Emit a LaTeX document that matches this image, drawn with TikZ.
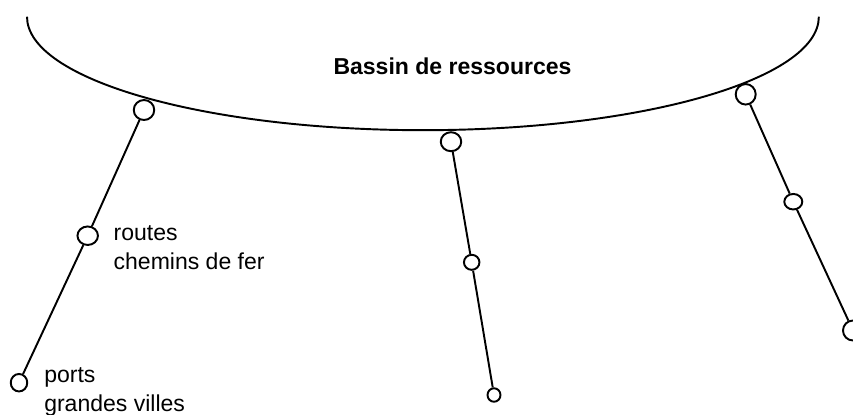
\documentclass[tikz,border=0pt]{standalone}
\usepackage{fontspec}
\setmainfont{Liberation Sans}
\usepackage{tikz}
\usetikzlibrary{shapes.geometric}

\begin{document}
\begin{tikzpicture}[x=0.02cm,y=-0.02cm,line width=1.1pt,
    txt/.style={font=\fontsize{13.1}{16.2}\selectfont},
    joint/.style 2 args={draw, ellipse, inner sep=0pt, minimum width=#1*0.02cm, minimum height=#2*0.02cm},
    lbl/.style={txt, anchor=base west, align=left, inner sep=0pt}]
                \useasboundingbox (0,0) rectangle (853,414);

                % Resource basin
                \draw (27,16.7) arc[start angle=180, end angle=360, x radius=7.92cm, y radius=2.27cm];
                \node[txt, font=\fontsize{13.1}{16.2}\selectfont\bfseries, anchor=base] (bassin) at (452.5,74.3) {Bassin de ressources};

                % Left branch
                \node[joint={20.5}{20}] (ltop) at (144,110) {};
                \node[joint={20.5}{18.5}] (lmid) at (87.7,235.7) {};
                \node[joint={16.5}{17.5}] (lbot) at (19,382.7) {};
                \draw (ltop) -- (lmid) -- (lbot);
                \node[lbl] (ltxt) at (112.7,269) {routes\\chemins de fer};
                \node[lbl] (btxt) at (43.3,411) {ports\\grandes villes};

                % Middle branch
                \node[joint={20.5}{19}] (mtop) at (451,141.7) {};
                \node[joint={15.5}{15}] (mmid) at (471.7,262.3) {};
                \node[joint={13}{13.5}] (mbot) at (494,395) {};
                \draw (mtop) -- (mmid) -- (mbot);

                % Right branch
                \node[joint={20}{20.5}] (rtop) at (745.7,94.3) {};
                \node[joint={18}{15.5}] (rmid) at (793.3,201.7) {};
                \node[joint={20}{20}] (rbot) at (853,330.5) {};
                \draw (rtop) -- (rmid) -- (rbot);
            \end{tikzpicture}
\end{document}
